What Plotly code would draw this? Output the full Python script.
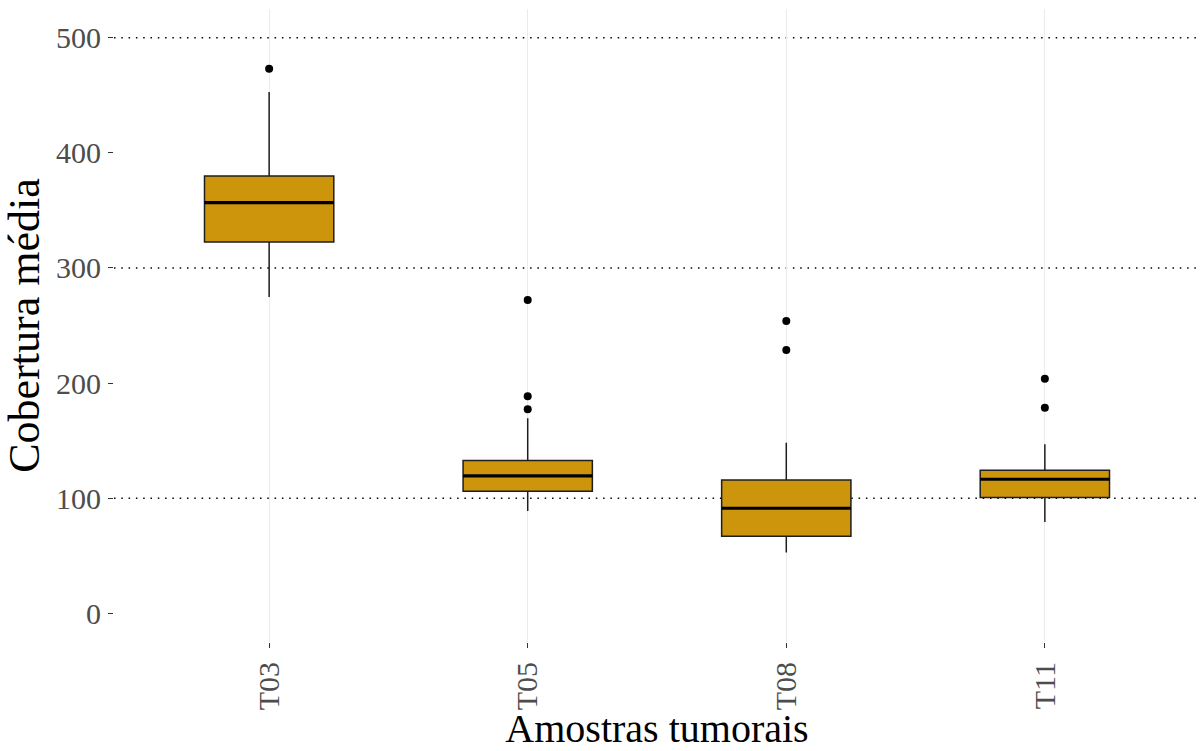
import plotly.graph_objects as go

# ---- data ----
categories = ["T03", "T05", "T08", "T11"]
q1_vals = [322.5, 106.0, 66.9, 100.5]
median_vals = [356.7, 119.3, 91.2, 116.4]
q3_vals = [379.8, 132.6, 115.8, 124.2]
lower_whisker = [274.7, 88.9, 52.7, 79.3]
upper_whisker = [452.8, 169.4, 148.2, 146.8]
outliers = {
    "T03": [473.1],
    "T05": [272.1, 188.5, 177.2],
    "T08": [253.9, 228.7],
    "T11": [203.8, 178.6],
}
y_ticks = [0, 100, 200, 300, 400, 500]
dotted_lines = [100, 300, 500]

FILL = "#CD950C"
FONT = "Liberation Serif"
BOX_W = 0.5

positions = list(range(len(categories)))

fig = go.Figure()

fig.add_trace(go.Box(
    x=positions,
    q1=q1_vals, median=median_vals, q3=q3_vals,
    lowerfence=lower_whisker, upperfence=upper_whisker,
    width=BOX_W,
    fillcolor=FILL,
    line=dict(color="#1e1e1e", width=1.5),
    whiskerwidth=0,
    boxpoints=False,
    showlegend=False,
    hoverinfo="skip",
))

# thick median lines
mx, my = [], []
for p, m in zip(positions, median_vals):
    mx += [p - BOX_W / 2, p + BOX_W / 2, None]
    my += [m, m, None]
fig.add_trace(go.Scatter(x=mx, y=my, mode="lines",
                         line=dict(color="black", width=3.2),
                         showlegend=False, hoverinfo="skip"))

# outliers
ox, oy = [], []
for p, c in zip(positions, categories):
    for v in outliers[c]:
        ox.append(p)
        oy.append(v)
fig.add_trace(go.Scatter(x=ox, y=oy, mode="markers",
                         marker=dict(color="black", size=8),
                         showlegend=False, hoverinfo="skip"))

# dotted reference grid lines
for v in dotted_lines:
    fig.add_shape(type="line", xref="paper", x0=0, x1=1, yref="y", y0=v, y1=v,
                  line=dict(color="black", width=1.5, dash="1.5px,5.8px"),
                  layer="below")

fig.update_layout(
    width=1202, height=751,
    margin=dict(l=114, r=2, t=9, b=109),
    plot_bgcolor="white", paper_bgcolor="white",
    font=dict(family=FONT),
)
fig.update_xaxes(
    range=[-0.6, len(categories) - 0.4],
    tickmode="array", tickvals=positions, ticktext=categories,
    tickangle=-90,
    showgrid=True, gridcolor="#EBEBEB", gridwidth=1.1,
    zeroline=False, showline=False,
    ticks="outside", ticklen=5, tickcolor="#333333", tickwidth=1,
    tickfont=dict(family=FONT, size=30, color="#4D4D4D"),
    ticklabelstandoff=2,
    title=dict(text="Amostras tumorais", font=dict(family=FONT, size=40, color="black"),
               standoff=2),
)
fig.update_yaxes(
    range=[-25, 525],
    tickmode="array", tickvals=y_ticks,
    showgrid=False, zeroline=False, showline=False,
    ticks="outside", ticklen=5, tickcolor="#333333", tickwidth=1,
    tickfont=dict(family=FONT, size=30, color="#4D4D4D"),
    ticklabelstandoff=1,
    title=dict(text="Cobertura média", font=dict(family=FONT, size=44, color="black"),
               standoff=9),
)

fig.write_html("out.html")
